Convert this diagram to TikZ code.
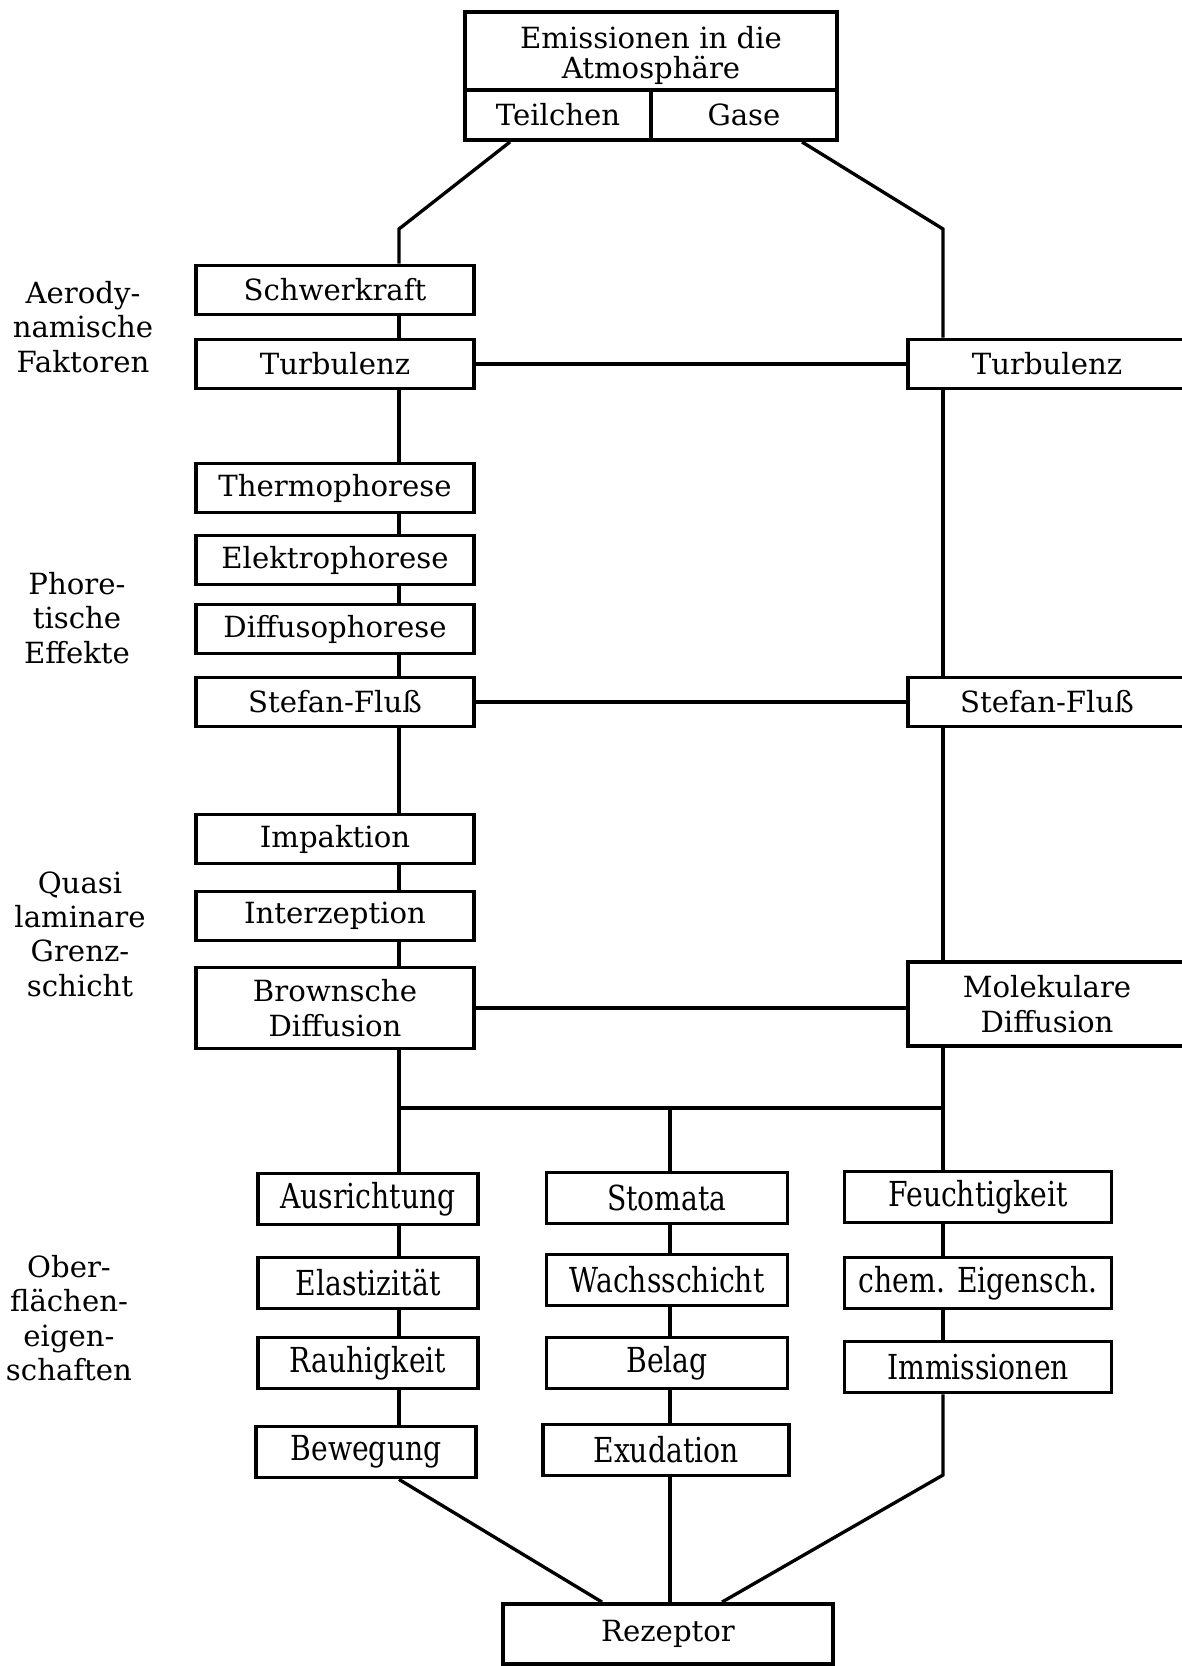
\documentclass[tikz,border=0pt]{standalone}
\usepackage{fontspec}
\setmainfont{DejaVu Serif}
\newfontfamily\condfont[FakeStretch=0.82]{DejaVu Serif}
\usetikzlibrary{calc}

\begin{document}
\begin{tikzpicture}[x=0.02cm,y=-0.02cm,line width=1.9pt]
\tikzstyle{every node}+=[inner sep=0pt,font=\fontsize{16.6}{19.5}\selectfont]
\tikzstyle{box}=[draw,line width=2.2pt,align=center,minimum height=0.98cm]
\tikzstyle{lbox}=[box,minimum width=5.56cm]
\tikzstyle{bbox}=[box,minimum height=1.02cm,font=\condfont\fontsize{19.6}{22}\selectfont]
\tikzstyle{lab}=[align=center]
\useasboundingbox (0,0) rectangle (1182,1666);

\node[box,minimum width=7.44cm,minimum height=1.56cm,font=\fontsize{16.6}{17}\selectfont] (emis) at (651,51) {\rule{0pt}{18pt}Emissionen in die\\Atmosphäre};
\node[box,minimum width=3.72cm,minimum height=1cm] (teil) at (558,115) {Teilchen};
\node[box,minimum width=3.72cm,minimum height=1cm] (gase) at (744,115) {Gase};

\node[lab] (aero) at (83,327) {Aerody-\\namische\\Faktoren};
\node[lab] (phor) at (77,618) {Phore-\\tische\\Effekte};
\node[lab] (quasi) at (80,934) {Quasi\\laminare\\Grenz-\\schicht};
\node[lab] (ober) at (69,1318) {Ober-\\flächen-\\eigen-\\schaften};

\node[lbox] (schwer) at (335,290) {Schwerkraft};
\node[lbox] (turbL) at (335,364) {Turbulenz};
\node[lbox] (thermo) at (335,488) {Thermophorese};
\node[lbox] (elektro) at (335,560) {Elektrophorese};
\node[lbox] (diffuso) at (335,629) {Diffusophorese};
\node[lbox] (stefanL) at (335,702) {Stefan-Fluß};
\node[lbox] (impakt) at (335,839) {Impaktion};
\node[lbox] (interz) at (335,916) {Interzeption};
\node[lbox,minimum height=1.62cm] (brown) at (335,1008) {Brownsche\\Diffusion};

\node[lbox] (turbR) at (1047,364) {Turbulenz};
\node[lbox] (stefanR) at (1047,702) {Stefan-Fluß};
\node[lbox,minimum height=1.68cm] (molek) at (1047,1004) {Molekulare\\Diffusion};

\node[bbox,minimum width=4.4cm] (ausr) at (368,1199) {Ausrichtung};
\node[bbox,minimum width=4.4cm] (elast) at (368,1283) {Elastizität};
\node[bbox,minimum width=4.4cm] (rauh) at (368,1363) {Rauhigkeit};
\node[bbox,minimum width=4.4cm] (beweg) at (366,1452) {Bewegung};
\node[bbox,minimum width=4.82cm] (stom) at (667,1198) {Stomata};
\node[bbox,minimum width=4.82cm] (wachs) at (667,1280) {Wachsschicht};
\node[bbox,minimum width=4.82cm] (belag) at (667,1363) {Belag};
\node[bbox,minimum width=4.92cm] (exud) at (666,1450) {Exudation};
\node[bbox,minimum width=5.34cm] (feucht) at (978,1197) {Feuchtigkeit};
\node[bbox,minimum width=5.34cm] (chem) at (978,1283) {chem. Eigensch.};
\node[bbox,minimum width=5.34cm] (immis) at (978,1367) {Immissionen};

\node[box,minimum width=6.6cm,minimum height=1.2cm] (rez) at (668,1634) {Rezeptor};

\coordinate (lk) at (399,229);
\coordinate (rk) at (943,229);
\draw ($(teil.south)+(-48,0)$) -- (lk) -- (schwer.north -| lk);
\draw ($(gase.south)+(58,0)$) -- (rk) -- (turbR.north -| rk);
\foreach \a/\b in {schwer/turbL,turbL/thermo,thermo/elektro,elektro/diffuso,diffuso/stefanL,stefanL/impakt,impakt/interz,interz/brown}
  \draw (\a.south -| lk) -- (\b.north -| lk);
\foreach \a/\b in {turbR/stefanR,stefanR/molek}
  \draw (\a.south -| rk) -- (\b.north -| rk);
\foreach \a/\b in {turbL/turbR,stefanL/stefanR,brown/molek}
  \draw (\a.east) -- (\a.east -| \b.west);

\coordinate (bl) at (399,1108);
\coordinate (bm) at (670,1108);
\coordinate (br) at (943,1108);
\coordinate (knee) at (943,1475);
\draw (brown.south -| bl) -- (bl) -- (br) -- (molek.south -| br);
\draw (bl) -- (ausr.north -| bl);
\draw (bm) -- (stom.north -| bm);
\draw (br) -- (feucht.north -| br);
\foreach \a/\b in {ausr/elast,elast/rauh,rauh/beweg}
  \draw (\a.south -| bl) -- (\b.north -| bl);
\foreach \a/\b in {stom/wachs,wachs/belag,belag/exud}
  \draw (\a.south -| bm) -- (\b.north -| bm);
\foreach \a/\b in {feucht/chem,chem/immis}
  \draw (\a.south -| br) -- (\b.north -| br);
\draw (beweg.south -| bl) -- ($(rez.north)+(-66,0)$);
\draw (exud.south -| bm) -- (rez.north -| bm);
\draw (immis.south -| br) -- (knee) -- ($(rez.north)+(54,0)$);
\end{tikzpicture}
\end{document}
